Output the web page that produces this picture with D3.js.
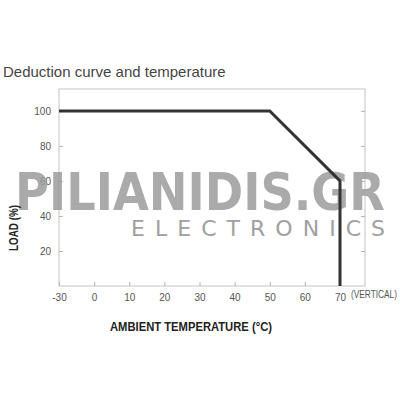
<!DOCTYPE html>
<html>
<head>
<meta charset="utf-8">
<script src="https://cdn.jsdelivr.net/npm/d3@7"></script>
<style>
  body { margin: 0; background: #fff; }
  svg { display: block; font-family: "Liberation Sans", Arial, sans-serif; }
</style>
</head>
<body>
<div id="chart"></div>
<script>
// x axis is categorical: -30 sits one step left of 0, like in the datasheet
var tempLabels = ["-30", "0", "10", "20", "30", "40", "50", "60", "70"];
var loadTicks = [20, 40, 60, 80, 100];

// derating curve
var curveTemp = ["-30", "50", "70", "70"];
var curveLoad = [100, 100, 60, 0];

var points = curveTemp.map(function(t, i) { return { temp: t, load: curveLoad[i] }; });

var frame = { left: 59, right: 365, top: 89, bottom: 286 };

var svg = d3.select("#chart")
  .append("svg")
  .attr("width", 400)
  .attr("height", 400);

var xPositionScale = d3.scalePoint()
  .domain(tempLabels)
  .range([frame.left, 340]);

var yPositionScale = d3.scaleLinear()
  .domain([0, 112.5])
  .range([frame.bottom, frame.top]);

// title
svg.append("text")
  .attr("x", 3)
  .attr("y", 77)
  .attr("fill", "#444")
  .style("font-size", "15px")
  .text("Deduction curve and temperature");

// box
svg.append("rect")
  .attr("x", frame.left)
  .attr("y", frame.top)
  .attr("width", frame.right - frame.left)
  .attr("height", frame.bottom - frame.top)
  .attr("fill", "none")
  .attr("stroke", "#c4c4c4")
  .attr("stroke-width", 1);

// axes (ticks pointing inward)
var xAxis = d3.axisBottom(xPositionScale).tickSize(-4).tickPadding(8);
svg.append("g")
  .attr("class", "axis x-axis")
  .attr("transform", "translate(0," + frame.bottom + ")")
  .call(xAxis);

var yAxis = d3.axisLeft(yPositionScale).tickValues(loadTicks).tickSize(-4).tickPadding(8);
svg.append("g")
  .attr("class", "axis y-axis")
  .attr("transform", "translate(" + frame.left + ",0)")
  .call(yAxis);

var yAxisRight = d3.axisRight(yPositionScale).tickValues(loadTicks).tickSize(-4).tickFormat("");
svg.append("g")
  .attr("class", "axis y-axis-right")
  .attr("transform", "translate(" + frame.right + ",0)")
  .call(yAxisRight);

svg.selectAll(".axis .domain").remove();
svg.selectAll(".axis line").attr("stroke", "#b4b4b4");
svg.selectAll(".axis text")
  .attr("fill", "#555")
  .style("font-size", "10px")
  .style("font-family", "Liberation Sans, Arial, sans-serif");

svg.append("text")
  .attr("x", 351)
  .attr("y", 298)
  .attr("fill", "#555")
  .attr("textLength", 46)
  .attr("lengthAdjust", "spacingAndGlyphs")
  .style("font-size", "10px")
  .text("(VERTICAL)");

// watermark
svg.append("text")
  .attr("x", 15)
  .attr("y", 210)
  .attr("fill", "#9c9c9c")
  .attr("opacity", 0.85)
  .attr("textLength", 370)
  .attr("lengthAdjust", "spacingAndGlyphs")
  .style("font-family", "DejaVu Sans, sans-serif")
  .style("font-weight", "bold")
  .style("font-size", "52px")
  .text("PILIANIDIS.GR");

svg.append("text")
  .attr("x", 131)
  .attr("y", 236)
  .attr("fill", "#a0a0a0")
  .attr("textLength", 254)
  .attr("lengthAdjust", "spacing")
  .style("font-family", "DejaVu Sans, sans-serif")
  .style("font-size", "22px")
  .text("ELECTRONICS");

// curve
var line = d3.line()
  .x(function(d) { return xPositionScale(d.temp); })
  .y(function(d) { return yPositionScale(d.load); });

svg.append("path")
  .datum(points)
  .attr("d", line)
  .attr("fill", "none")
  .attr("stroke", "#333")
  .attr("stroke-width", 3);

// axis titles
svg.append("text")
  .attr("transform", "translate(18,228) rotate(-90)")
  .attr("text-anchor", "middle")
  .attr("fill", "#222")
  .attr("textLength", 46)
  .attr("lengthAdjust", "spacingAndGlyphs")
  .style("font-size", "12px")
  .style("font-weight", "bold")
  .text("LOAD (%)");

svg.append("text")
  .attr("x", 191)
  .attr("y", 331)
  .attr("text-anchor", "middle")
  .attr("fill", "#222")
  .attr("textLength", 162)
  .attr("lengthAdjust", "spacingAndGlyphs")
  .style("font-size", "12.5px")
  .style("font-weight", "bold")
  .text("AMBIENT TEMPERATURE (°C)");
</script>
</body>
</html>
